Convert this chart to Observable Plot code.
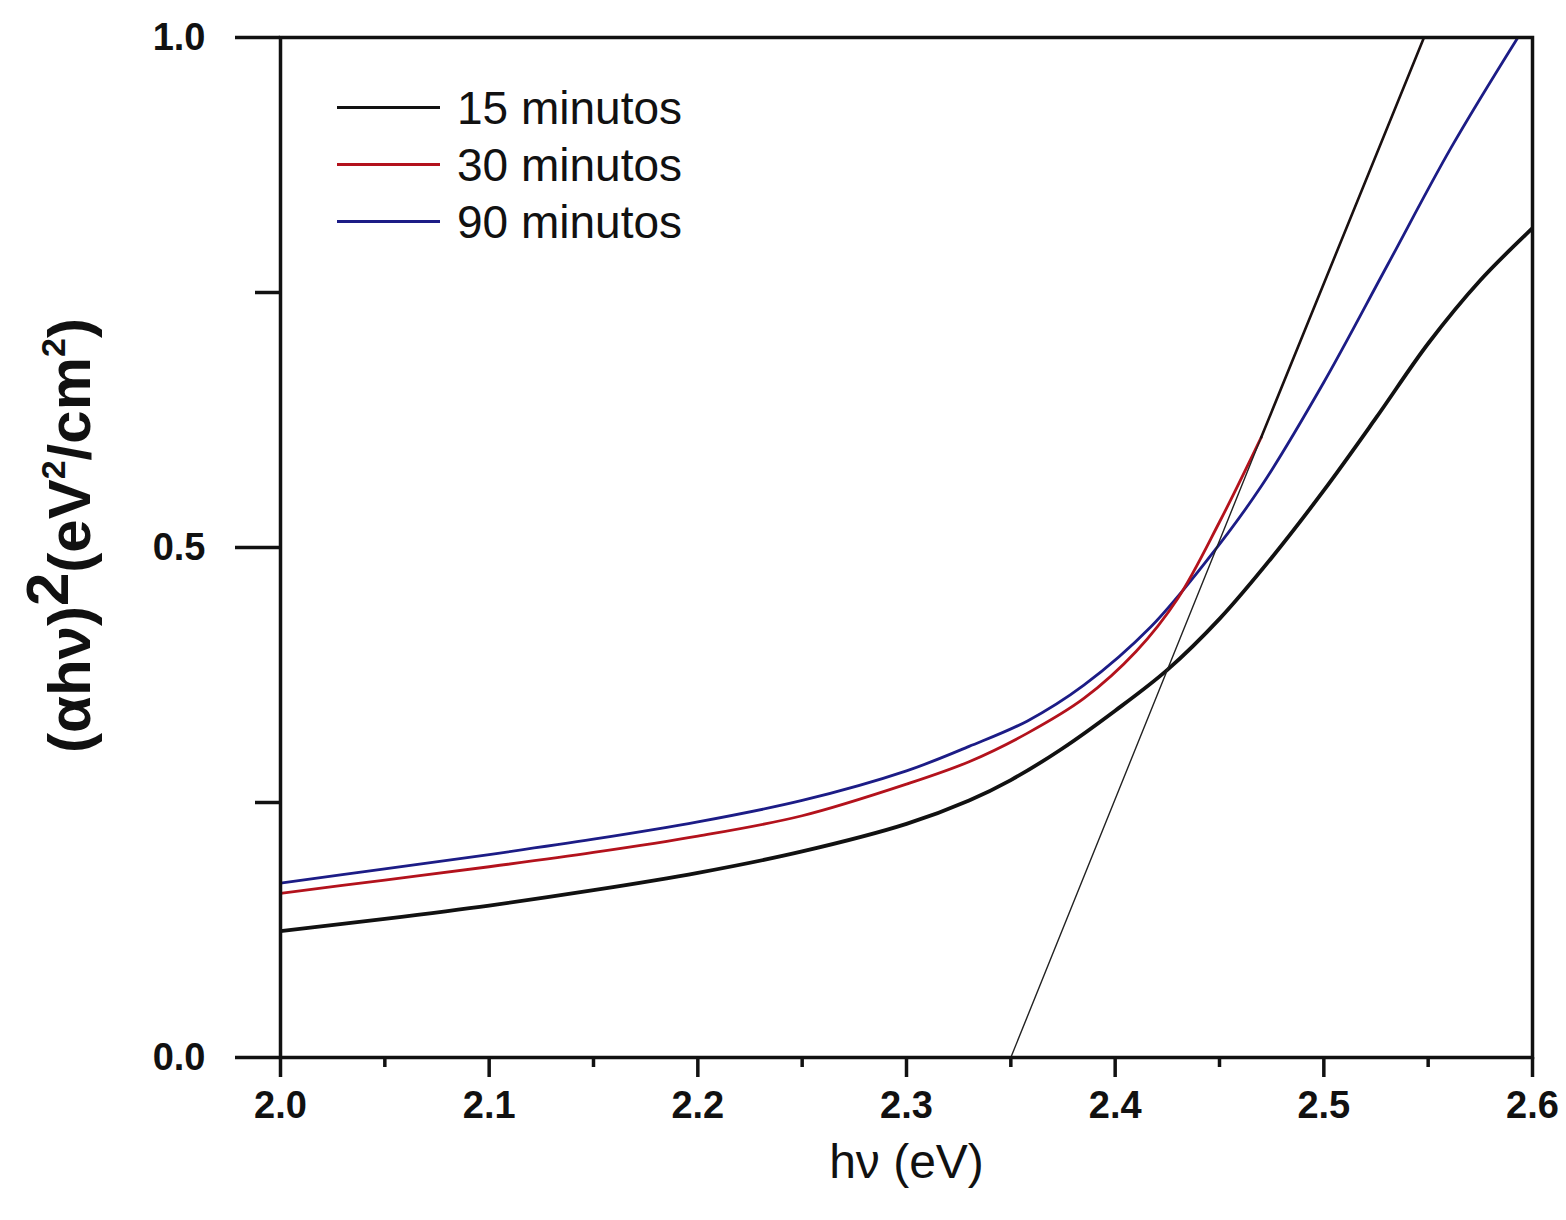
<!DOCTYPE html>
<html><head><meta charset="utf-8">
<script src="https://cdn.jsdelivr.net/npm/d3@7"></script>
<script src="https://cdn.jsdelivr.net/npm/@observablehq/plot@0.6"></script>
<style>
body{margin:0;background:#fff;}
#wrap{position:relative;width:1566px;height:1220px;font-family:"Liberation Sans",Arial,sans-serif;}
#legend{position:absolute;left:337px;top:79px;}
.row{display:flex;align-items:center;height:57px;}
.sw{width:103px;height:0;margin-right:17px;}
.lab{font-size:46px;color:#111;line-height:1;}
</style>
</head><body><div id="wrap"><div id="legend"></div></div>
<script>
// 15 minutos
const x15 = [2.00, 2.05, 2.10, 2.15, 2.20, 2.25, 2.30, 2.33, 2.35, 2.374, 2.40, 2.425, 2.45, 2.475, 2.50, 2.525, 2.55, 2.575, 2.60];
const y15 = [0.124, 0.136, 0.149, 0.164, 0.181, 0.202, 0.229, 0.252, 0.272, 0.302, 0.340, 0.380, 0.430, 0.490, 0.556, 0.627, 0.700, 0.762, 0.813];
// 30 minutos
const x30 = [2.00, 2.05, 2.10, 2.15, 2.20, 2.25, 2.30, 2.33, 2.358, 2.385, 2.41, 2.43, 2.45, 2.47];
const y30 = [0.161, 0.174, 0.187, 0.201, 0.217, 0.237, 0.268, 0.290, 0.318, 0.352, 0.398, 0.450, 0.525, 0.608];
// 90 minutos
const x90 = [2.00, 2.05, 2.10, 2.15, 2.20, 2.25, 2.30, 2.33, 2.358, 2.385, 2.417, 2.445, 2.47, 2.50, 2.53, 2.561, 2.593];
const y90 = [0.171, 0.185, 0.199, 0.214, 0.231, 0.252, 0.281, 0.305, 0.330, 0.365, 0.422, 0.490, 0.560, 0.662, 0.775, 0.892, 1.000];
// tangent (linear fit) line
const xTan = [2.35, 2.47, 2.548];
const yTan = [0.0, 0.608, 1.0];

const seriesNames = ["15 minutos", "30 minutos", "90 minutos"];
const seriesColors = ["#111111", "#b3121c", "#1c1c86"];
const seriesWidths = [3.8, 2.8, 2.8];

const xMajor = [2.0, 2.1, 2.2, 2.3, 2.4, 2.5, 2.6];
const xMinor = [2.05, 2.15, 2.25, 2.35, 2.45, 2.55];
const yMajor = [0.0, 0.5, 1.0];
const yMinor = [0.25, 0.75];

const xTitle = "hν (eV)";
const yTitle = "(αhν)2(eV2/cm2)";

const toRows = (xs, ys) => xs.map((x, i) => ({x, y: ys[i]}));
const d15 = toRows(x15, y15), d30 = toRows(x30, y30), d90 = toRows(x90, y90);
const tan = toRows(xTan, yTan);
const FONT = "Liberation Sans, Arial, sans-serif";

const chart = Plot.plot({
  width: 1566, height: 1220,
  marginLeft: 280, marginRight: 34, marginTop: 37, marginBottom: 163,
  x: {domain: [2.0, 2.6]},
  y: {domain: [0, 1]},
  style: {fontFamily: FONT, color: "#111", background: "#fff"},
  marks: [
    Plot.line(d15, {x: "x", y: "y", stroke: seriesColors[0], strokeWidth: seriesWidths[0], curve: "catmull-rom", clip: true}),
    Plot.line(d90, {x: "x", y: "y", stroke: seriesColors[2], strokeWidth: seriesWidths[2], curve: "catmull-rom", clip: true}),
    Plot.line(d30, {x: "x", y: "y", stroke: seriesColors[1], strokeWidth: seriesWidths[1], curve: "catmull-rom", clip: true}),
    Plot.line(tan.slice(0, 2), {x: "x", y: "y", stroke: "#222", strokeWidth: 1.4, clip: true}),
    Plot.line(tan.slice(1), {x: "x", y: "y", stroke: "#1a1010", strokeWidth: 2.6, clip: true}),
    Plot.frame({stroke: "#111", strokeWidth: 3.5}),
    Plot.axisX({ticks: xMajor, tickSize: 20, tickPadding: 14, tickFormat: d3.format(".1f"), fontSize: 38, fontWeight: "bold", strokeWidth: 3.5, label: null}),
    Plot.axisX({ticks: xMinor, tickSize: 10, tickFormat: () => "", strokeWidth: 3.5, label: null}),
    Plot.axisY({ticks: yMajor, tickSize: 45, tickPadding: 30, tickFormat: d3.format(".1f"), fontSize: 38, fontWeight: "bold", strokeWidth: 3.5, label: null}),
    Plot.axisY({ticks: yMinor, tickSize: 25, tickFormat: () => "", strokeWidth: 3.5, label: null}),
    Plot.text([xTitle], {text: d => d, frameAnchor: "bottom", dy: 120, fontSize: 48, fill: "#111"}),
    Plot.text([yTitle], {text: d => d, frameAnchor: "left", textAnchor: "middle", rotate: -90, dx: -210, dy: -12, fontSize: 60, fontWeight: "bold", fill: "#111"})
  ]
});
document.getElementById("wrap").prepend(chart);

// rich formatting for the y-axis title (superscripts)
d3.select(chart).selectAll("text").filter(function() { return this.textContent === yTitle; }).each(function() {
  const t = d3.select(this);
  t.text(null);
  const parts = [
    {s: "(αhν)", dy: 0},
    {s: "2", dy: -22},
    {s: "(eV", dy: 22},
    {s: "2", dy: -25, small: true},
    {s: "/cm", dy: 25},
    {s: "2", dy: -25, small: true},
    {s: ")", dy: 25}
  ];
  parts.forEach(p => {
    const ts = t.append("tspan").text(p.s);
    if (p.dy) ts.attr("dy", p.dy);
    if (p.small) ts.attr("font-size", 34);
  });
});

const leg = document.getElementById("legend");
seriesNames.forEach((n, i) => {
  const row = document.createElement("div");
  row.className = "row";
  const sw = document.createElement("div");
  sw.className = "sw";
  sw.style.borderTop = `3px solid ${seriesColors[i]}`;
  const lab = document.createElement("span");
  lab.className = "lab";
  lab.textContent = n;
  row.append(sw, lab);
  leg.append(row);
});
</script>
</body></html>
